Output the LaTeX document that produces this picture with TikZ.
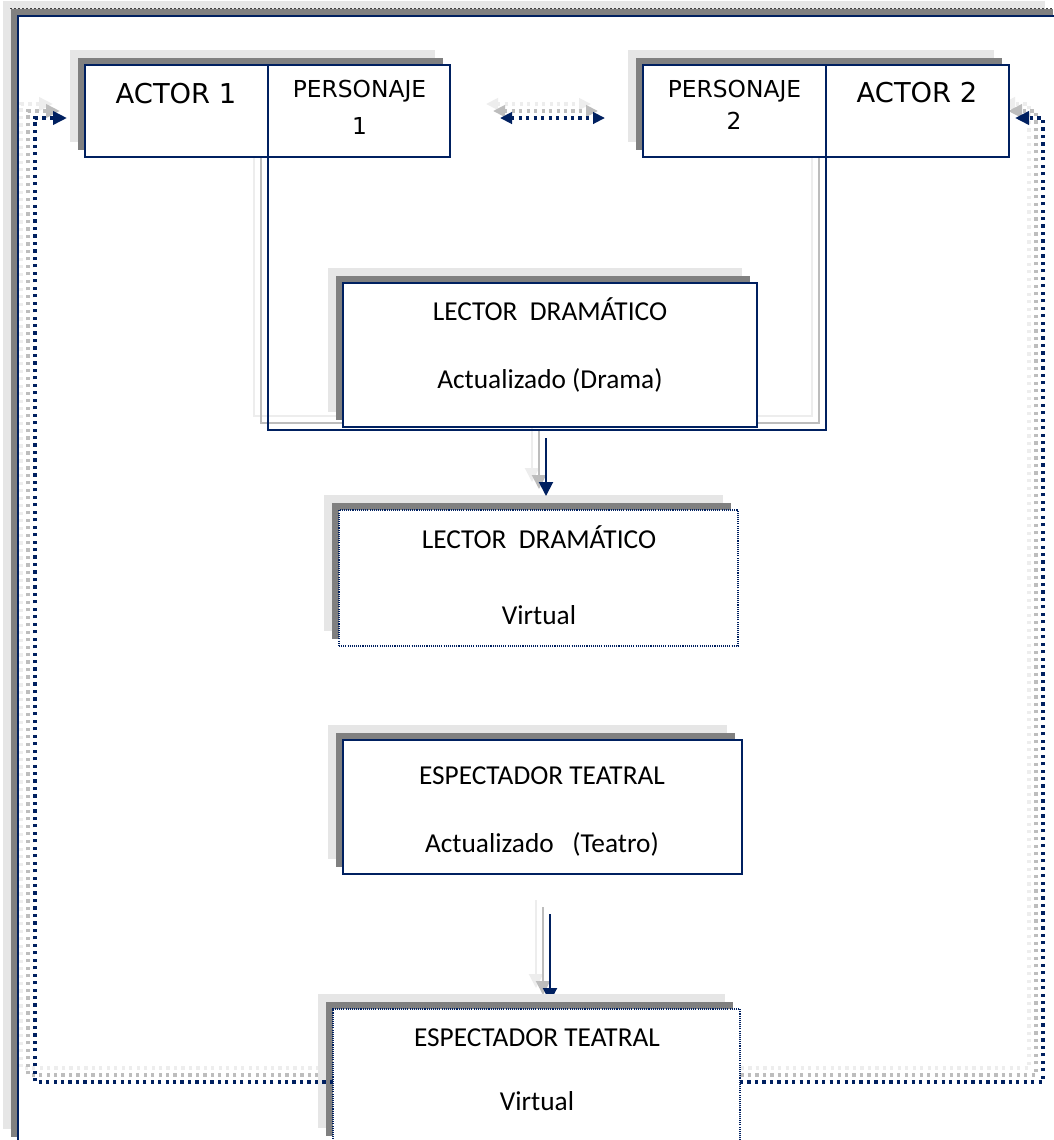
\documentclass[tikz,border=0pt]{standalone}
\usepackage{fontspec}
\setmainfont{Carlito}
\newfontfamily\cellfont{DejaVu Sans}
\usetikzlibrary{arrows.meta,fit,shadows}

\definecolor{navy}{HTML}{002060}
\definecolor{shdark}{HTML}{808080}
\definecolor{shlight}{HTML}{E6E6E6}
\definecolor{trdark}{HTML}{BDBDBD}
\definecolor{trlight}{HTML}{EDEDED}

\pgfdeclarelayer{frame}
\pgfdeclarelayer{ghost}
\pgfdeclarelayer{under}
\pgfsetlayers{frame,ghost,under,main}

\tikzset{
  twoshadows/.style={
    general shadow={fill=shlight, shadow xshift=-11pt, shadow yshift=11pt},
    general shadow={fill=shdark, shadow xshift=-5.3pt, shadow yshift=5.3pt}},
  panel/.style={twoshadows, draw=navy, line width=1.1pt, fill=white, inner sep=0pt, outer sep=0pt},
  solidbox/.style={twoshadows, draw=navy, line width=1.1pt, fill=white, inner sep=0pt, outer sep=0pt},
  dotbox/.style={twoshadows, draw=navy, line width=0.9pt, dash pattern=on 0.8pt off 0.8pt, fill=white, inner sep=0pt, outer sep=0pt},
  cell/.style={draw=navy, line width=1.4pt, inner sep=0pt, outer sep=0pt},
  framedash/.style={draw=black!75, line width=0.5pt, dash pattern=on 1.5pt off 1.5pt},
  ulink/.style={line width=1.2pt},
  dotlink/.style={line width=2.6pt, dash pattern=on 2.4pt off 3.2pt},
  downlink/.style={line width=1.5pt, -{Triangle[length=10.5pt,width=10.5pt]}},
  loophead/.style={-{Triangle[length=10.5pt,width=9.75pt]}},
  bothheads/.style={{Triangle[length=9pt,width=8.5pt]}-{Triangle[length=9pt,width=8.5pt]}},
  caption/.style={font=\fontsize{20.5pt}{24pt}\selectfont, anchor=base, inner sep=0pt},
  actorlbl/.style={font=\cellfont\fontsize{20.5pt}{24pt}\selectfont, anchor=base, inner sep=0pt},
  perslbl/.style={font=\cellfont\fontsize{17.5pt}{20pt}\selectfont, anchor=base, inner sep=0pt}
}

% connectors between the boxes (the vertical arrow into the last box is drawn apart)
\newcommand\drawlinks[1]{%
  \draw[ulink,#1] (pers1.south west) -- (U1) -- (U2) -- (pers2.south east);
  \draw[dotlink,loophead,#1] (L1 -| espV.west) -- (L1) -- (L2) -- (Ltip);
  \draw[dotlink,loophead,#1] (R1 -| espV.east) -- (R1) -- (R2) -- (Rtip);
  \draw[dotlink,bothheads,#1] (D1) -- (D2);
  \draw[downlink,#1] (V1a) -- (V1b);
}

\begin{document}
\begin{tikzpicture}[x=0.75pt,y=-0.75pt]
\useasboundingbox (0,0) rectangle (1054,1140);

% outer frame
\begin{pgfonlayer}{frame}
  \node[panel, fit={(18,16) (1060,1144)}] (frame) {};
  \draw[framedash] (10,8) -- (1053,8);
\end{pgfonlayer}

% fixed points of the connectors
\coordinate (U1) at (268,430);
\coordinate (U2) at (826,430);
\coordinate (L1) at (35,1082);
\coordinate (L2) at (35,118);
\coordinate (Ltip) at (67,118);
\coordinate (R1) at (1043,1082);
\coordinate (R2) at (1043,118);
\coordinate (Rtip) at (1015,118);
\coordinate (D1) at (500,118);
\coordinate (D2) at (605,118);
\coordinate (V1a) at (546,438);
\coordinate (V1b) at (546,496);
\coordinate (V2a) at (550,914);
\coordinate (V2b) at (550,1002);

% actor / character pairs
\node[solidbox, fit={(85,65) (450,157)}] (box1) {};
\node[cell, fit={(85,65) (268,157)}] (actor1) {};
\node[cell, fit={(268,65) (450,157)}] (pers1) {};
\node[solidbox, fit={(643,65) (1009,157)}] (box2) {};
\node[cell, fit={(643,65) (826,157)}] (pers2) {};
\node[cell, fit={(826,65) (1009,157)}] (actor2) {};

\node[actorlbl] (tactor1) at (176,103) {ACTOR 1};
\node[perslbl] (tpers1) at (359.5,97) {PERSONAJE};
\node[perslbl] (tnum1) at (359.5,134) {1};
\node[perslbl] (tpers2) at (734.5,97) {PERSONAJE};
\node[perslbl] (tnum2) at (734,129) {2};
\node[actorlbl] (tactor2) at (917,102) {ACTOR 2};

% reader and spectator boxes
\node[solidbox, fit={(343,283) (757,427)}] (lecA) {};
\node[caption] (tlecA1) at (550,320) {LECTOR\ \ DRAMÁTICO};
\node[caption] (tlecA2) at (550,388) {Actualizado (Drama)};

\node[dotbox, fit={(339,510) (738,646)}] (lecV) {};
\node[caption] (tlecV1) at (539,548) {LECTOR\ \ DRAMÁTICO};
\node[caption] (tlecV2) at (539,624) {Virtual};

\node[solidbox, fit={(343,740) (742,874)}] (espA) {};
\node[caption] (tespA1) at (542,784) {ESPECTADOR TEATRAL};
\node[caption] (tespA2) at (542,852) {Actualizado\ \ \ (Teatro)};

\node[dotbox, fit={(333,1009) (740,1143)}] (espV) {};
\node[caption] (tespV1) at (537,1046) {ESPECTADOR TEATRAL};
\node[caption] (tespV2) at (537,1110) {Virtual};

% shadow copies of the connectors
\begin{pgfonlayer}{ghost}
  \begin{scope}[transform canvas={shift={(-14,-14)}}]
    \drawlinks{color=trlight}
    \draw[downlink,color=trlight] (V2a) -- (V2b);
  \end{scope}
  \begin{scope}[transform canvas={shift={(-7,-7)}}]
    \drawlinks{color=trdark}
    \draw[downlink,color=trdark] (V2a) -- (V2b);
  \end{scope}
\end{pgfonlayer}

% arrow into the last box, partly hidden by its shadow
\begin{pgfonlayer}{under}
  \draw[downlink,color=navy] (V2a) -- (V2b);
\end{pgfonlayer}

% connectors
\drawlinks{color=navy}

\end{tikzpicture}
\end{document}
